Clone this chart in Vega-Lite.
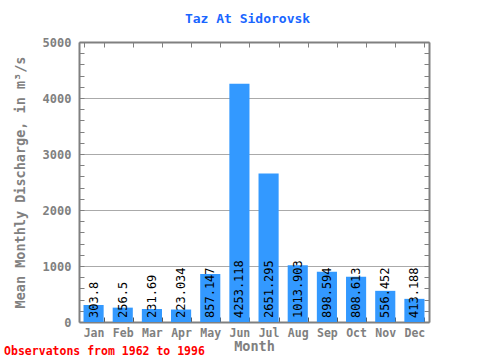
{
  "$schema": "https://vega.github.io/schema/vega-lite/v6.json",
  "width": 350,
  "height": 280,
  "autosize": {"type": "none"},
  "padding": {"left": 79, "top": 42, "right": 51, "bottom": 38},
  "background": "white",
  "title": {"text": "Observatons from 1962 to 1996", "orient": "bottom", "anchor": "start", "frame": "bounds", "color": "#ff0000", "font": "DejaVu Sans Mono", "fontSize": 11.5, "fontWeight": "bold", "offset": -7, "dx": -9},
  "config": {
    "view": {"stroke": null},
    "axis": {"domainColor": "#808080", "domainWidth": 2, "tickColor": "#808080", "labelFont": "DejaVu Sans Mono", "labelFontWeight": "bold", "labelFontSize": 11.5, "labelColor": "#808080", "titleFont": "DejaVu Sans Mono", "titleFontWeight": "bold", "titleFontSize": 13.5, "titleColor": "#808080"}
  },
  "data": {"values": [
    {"month": "Jan", "value": 303.8},
    {"month": "Feb", "value": 256.5},
    {"month": "Mar", "value": 231.69},
    {"month": "Apr", "value": 223.034},
    {"month": "May", "value": 857.147},
    {"month": "Jun", "value": 4253.118},
    {"month": "Jul", "value": 2651.295},
    {"month": "Aug", "value": 1013.903},
    {"month": "Sep", "value": 898.594},
    {"month": "Oct", "value": 808.613},
    {"month": "Nov", "value": 556.452},
    {"month": "Dec", "value": 413.188}
  ]},
  "resolve": {"axis": {"x": "independent", "y": "independent"}},
  "layer": [
    {
      "mark": {"type": "bar", "color": "#3399ff"},
      "encoding": {
        "x": {"field": "month", "type": "nominal", "sort": null,
          "scale": {"paddingInner": 0.31, "paddingOuter": 0.155},
          "axis": {"orient": "bottom", "title": "Month", "labelAngle": 0, "tickBand": "extent", "tickSize": -5, "tickColor": "#555555", "labelPadding": 10, "titlePadding": 1}},
        "y": {"field": "value", "type": "quantitative",
          "scale": {"domain": [0, 5000], "nice": false},
          "axis": {"orient": "left", "title": "Mean Monthly Discharge, in  m³/s",
            "values": [0,200,400,600,800,1000,1200,1400,1600,1800,2000,2200,2400,2600,2800,3000,3200,3400,3600,3800,4000,4200,4400,4600,4800,5000],
            "labelExpr": "datum.value % 1000 === 0 ? datum.value : ''",
            "labelFontSize": 12,
            "tickSize": -5, "labelPadding": 13,
            "grid": true, "gridColor": "#aaaaaa",
            "gridOpacity": {"condition": {"test": "datum.value % 1000 === 0 && datum.value > 0 && datum.value < 5000", "value": 1}, "value": 0},
            "titlePadding": 15}}
      }
    },
    {
      "mark": {"type": "text", "angle": -90, "align": "left", "baseline": "middle", "dx": 4, "font": "DejaVu Sans Mono", "fontSize": 12, "color": "#000000"},
      "encoding": {
        "x": {"field": "month", "type": "nominal", "sort": null,
          "axis": {"orient": "top", "labels": false, "tickBand": "extent", "tickSize": -5, "title": "Taz At Sidorovsk", "titleColor": "#1a66ff", "titleFontSize": 13, "titlePadding": 16, "titleX": 168}},
        "y": {"datum": 0, "type": "quantitative",
          "axis": {"orient": "right", "labels": false, "title": null, "grid": false,
            "values": [0,200,400,600,800,1000,1200,1400,1600,1800,2000,2200,2400,2600,2800,3000,3200,3400,3600,3800,4000,4200,4400,4600,4800,5000],
            "tickSize": -5}},
        "text": {"field": "value", "type": "nominal"}
      }
    }
  ]
}
